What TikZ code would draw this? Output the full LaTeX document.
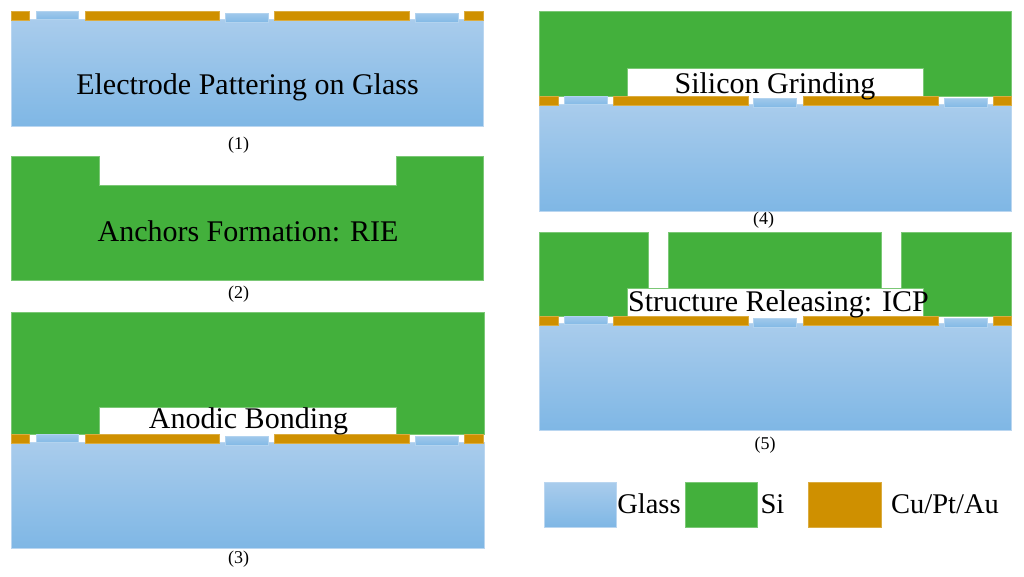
\documentclass[tikz,border=0pt]{standalone}
\usepackage{fontspec}
\setmainfont{Liberation Serif}
\usetikzlibrary{calc}

\definecolor{glasstop}{HTML}{A9CCEC}
\definecolor{glassbot}{HTML}{7FB7E5}
\definecolor{padtop}{HTML}{9FC8EB}
\definecolor{padbot}{HTML}{84BAE6}
\definecolor{sigreen}{HTML}{43B03C}
\definecolor{metal}{HTML}{CF9000}

\begin{document}
\begin{tikzpicture}[x=1pt, y=-1pt,
    glass/.style={top color=glasstop, bottom color=glassbot, draw=glasstop!80, line width=0.4pt},
    pad/.style={top color=padtop, bottom color=padbot, draw=padtop!80, line width=0.4pt},
    si/.style={fill=sigreen, draw=sigreen!70, line width=0.4pt},
    cu/.style={fill=metal, draw=metal!75, line width=0.4pt},
    step text/.style={anchor=base, inner sep=0pt, font=\fontsize{30}{34}\selectfont},
    legend text/.style={anchor=base, inner sep=0pt, font=\fontsize{28.5}{32}\selectfont},
    caption text/.style={inner sep=0pt, font=\fontsize{18}{20}\selectfont}]
    \useasboundingbox (0,0) rectangle (1024,576);

    % glass substrates
    \draw[glass] (11,19) rectangle (483,126);
    \draw[glass] (11,442) rectangle (484,548);
    \draw[glass] (539.5,104) rectangle (1011,211);
    \draw[glass] (539.5,323.5) rectangle (1011,430);

    % silicon
    \draw[si] (11,156) -- (99,156) -- (99,185.5) -- (396,185.5) -- (396,156)
        -- (483,156) -- (483,280) -- (11,280) -- cycle;
    \draw[si] (11,312) -- (484,312) -- (484,434.5) -- (396,434.5) -- (396,407)
        -- (99,407) -- (99,434.5) -- (11,434.5) -- cycle;
    \draw[si] (539.5,11) -- (1011,11) -- (1011,96) -- (923.5,96) -- (923.5,68.5)
        -- (627,68.5) -- (627,96) -- (539.5,96) -- cycle;
    \draw[si] (539.5,232) -- (648,232) -- (648,288.5) -- (668.5,288.5) -- (668.5,232)
        -- (881,232) -- (881,288.5) -- (901.5,288.5) -- (901.5,232) -- (1011,232)
        -- (1011,316.5) -- (923,316.5) -- (923,288.5) -- (627,288.5) -- (627,316.5)
        -- (539.5,316.5) -- cycle;

    % electrodes
    \foreach \dx/\dy in {0/0, 0/423, 528.5/85, 528.5/305}
    {
        \begin{scope}[shift={(\dx,\dy)}]
            \draw[cu] (11,11.5) rectangle (29.5,20.5);
            \draw[pad] (36,11.5) rectangle (78.5,19.5);
            \draw[cu] (85,11.5) rectangle (219.5,20);
            \draw[pad] (225,13.5) rectangle (268,21.7);
            \draw[cu] (274.5,11.5) rectangle (409.5,20);
            \draw[pad] (415.5,13.5) rectangle (458.5,21.7);
            \draw[cu] (464.5,11.5) rectangle (483,20.5);
        \end{scope}
    }

    % legend
    \draw[glass] (544.5,482) rectangle (616.5,527);
    \draw[si] (685,482) rectangle (757,527);
    \draw[cu] (808.5,482) rectangle (881,527);

    % labels
    \node[step text] (stepa) at (247.5,94) {Electrode Pattering on Glass};
    \node[step text] (stepb) at (248,241) {Anchors Formation: RIE};
    \node[step text] (stepc) at (248.5,428) {Anodic Bonding};
    \node[step text] (stepd) at (775,93) {Silicon Grinding};
    \node[step text] (stepe) at (778.5,311) {Structure Releasing: ICP};

    \node[caption text] (capa) at (238.5,145) {(1)};
    \node[caption text] (capb) at (238.5,294) {(2)};
    \node[caption text] (capc) at (238.5,559) {(3)};
    \node[caption text] (capd) at (763.5,220) {(4)};
    \node[caption text] (cape) at (765,445) {(5)};

    \node[legend text] (lglass) at (649,513) {Glass};
    \node[legend text] (lsi) at (772.5,513) {Si};
    \node[legend text] (lcu) at (945,513) {Cu/Pt/Au};
\end{tikzpicture}
\end{document}
